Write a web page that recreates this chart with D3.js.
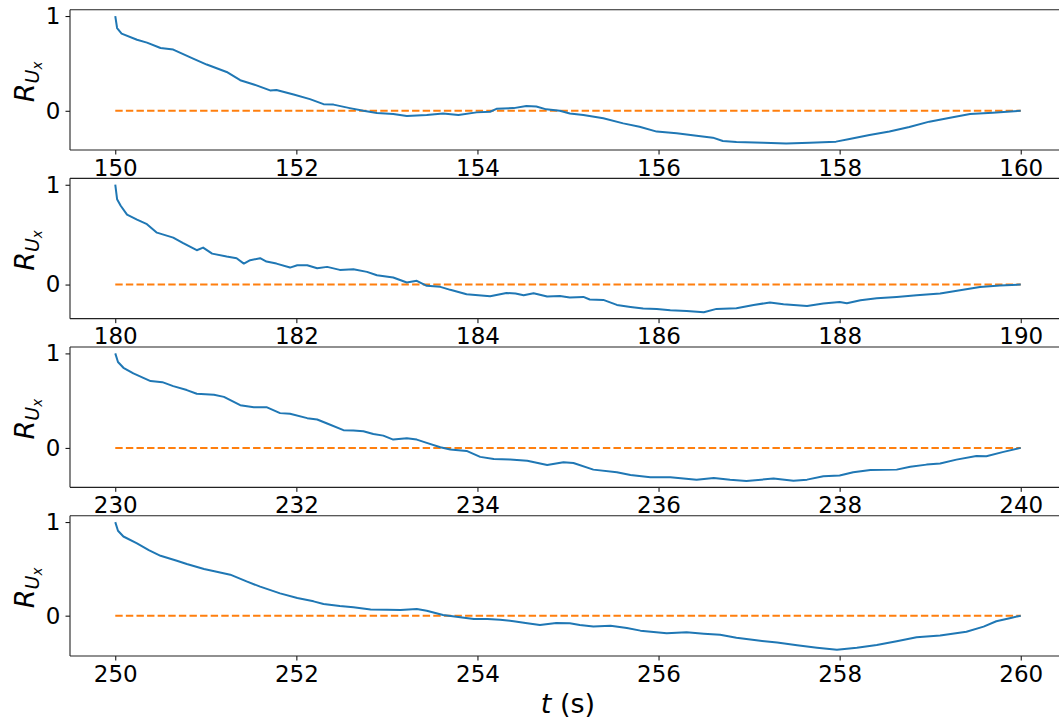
<!DOCTYPE html>
<html>
<head>
<meta charset="utf-8">
<script src="https://cdn.jsdelivr.net/npm/d3@7"></script>
<style>
  html, body { margin: 0; padding: 0; background: #fff; }
  svg { display: block; }
  text { font-family: "DejaVu Sans", sans-serif; fill: #000; }
</style>
</head>
<body>
<svg id="chart" width="1059" height="720"></svg>
<script>
// ---------- data ----------
const startTimes = [150, 180, 230, 250];
const tickOffsets = [0, 2, 4, 6, 8, 10];
const yTickValues = [0, 1];
const yLabel = { main: "R", sub: "U", subsub: "x" };
const xLabel = { italic: "t", rest: " (s)" };

const t1 = [150.00,150.02,150.07,150.24,150.35,150.50,150.64,150.86,151.01,151.23,151.38,151.53,151.71,151.78,151.97,152.15,152.30,152.41,152.59,152.74,152.89,153.07,153.22,153.44,153.62,153.79,153.99,154.14,154.21,154.40,154.54,154.65,154.76,154.91,155.02,155.17,155.39,155.61,155.79,155.98,156.20,156.42,156.60,156.71,156.86,157.16,157.41,157.67,157.96,158.11,158.33,158.55,158.77,158.99,159.22,159.44,159.69,160.00];
const r1 = [1.0,0.874,0.815,0.75,0.72,0.663,0.646,0.55,0.488,0.41,0.323,0.278,0.215,0.22,0.172,0.123,0.07,0.065,0.028,0.0,-0.024,-0.035,-0.056,-0.045,-0.03,-0.045,-0.017,-0.01,0.02,0.028,0.05,0.045,0.015,0.0,-0.028,-0.045,-0.08,-0.133,-0.168,-0.22,-0.238,-0.263,-0.284,-0.319,-0.33,-0.337,-0.347,-0.337,-0.326,-0.298,-0.256,-0.22,-0.172,-0.115,-0.073,-0.035,-0.02,0.0];

const t2 = [180.00,180.02,180.06,180.13,180.24,180.35,180.46,180.64,180.75,180.90,180.97,181.07,181.23,181.34,181.42,181.49,181.60,181.67,181.78,181.93,182.01,182.12,182.23,182.34,182.48,182.63,182.78,182.89,183.07,183.22,183.33,183.44,183.59,183.70,183.88,184.14,184.32,184.42,184.51,184.62,184.77,184.91,185.02,185.17,185.24,185.39,185.54,185.69,185.83,185.98,186.13,186.31,186.50,186.64,186.86,187.05,187.23,187.38,187.64,187.82,188.00,188.08,188.23,188.41,188.63,188.85,189.11,189.33,189.55,189.77,190.00];
const r2 = [1.0,0.855,0.79,0.70,0.65,0.605,0.52,0.47,0.415,0.344,0.37,0.31,0.28,0.264,0.21,0.244,0.264,0.23,0.21,0.17,0.194,0.194,0.163,0.177,0.147,0.153,0.127,0.093,0.07,0.02,0.037,-0.013,-0.023,-0.053,-0.097,-0.117,-0.084,-0.09,-0.107,-0.087,-0.12,-0.114,-0.13,-0.124,-0.15,-0.154,-0.204,-0.224,-0.241,-0.244,-0.258,-0.264,-0.278,-0.244,-0.238,-0.204,-0.18,-0.197,-0.214,-0.19,-0.174,-0.187,-0.157,-0.137,-0.124,-0.107,-0.09,-0.057,-0.024,-0.01,0.0];

const t3 = [230.00,230.03,230.09,230.20,230.31,230.39,230.52,230.64,230.79,230.90,231.09,231.20,231.38,231.53,231.67,231.82,231.93,232.12,232.23,232.34,232.52,232.63,232.74,232.85,232.96,233.07,233.22,233.33,233.44,233.59,233.70,233.88,234.03,234.18,234.36,234.55,234.77,234.95,235.06,235.28,235.54,235.69,235.91,236.13,236.42,236.61,236.79,236.97,237.27,237.49,237.64,237.82,238.00,238.15,238.34,238.63,238.78,238.96,239.11,239.29,239.51,239.62,239.81,240.00];
const r3 = [1.0,0.909,0.848,0.788,0.742,0.707,0.696,0.654,0.612,0.573,0.562,0.54,0.452,0.431,0.431,0.368,0.361,0.315,0.301,0.258,0.188,0.184,0.177,0.148,0.13,0.088,0.103,0.088,0.053,0.007,-0.018,-0.032,-0.095,-0.117,-0.124,-0.135,-0.18,-0.152,-0.16,-0.23,-0.258,-0.286,-0.311,-0.311,-0.336,-0.318,-0.336,-0.35,-0.325,-0.347,-0.336,-0.301,-0.293,-0.258,-0.233,-0.23,-0.2,-0.177,-0.166,-0.124,-0.085,-0.088,-0.042,0.0];

const t4 = [250.00,250.03,250.09,250.24,250.37,250.50,250.68,250.79,250.98,251.12,251.27,251.45,251.60,251.82,252.01,252.19,252.30,252.48,252.63,252.82,253.00,253.15,253.33,253.44,253.62,253.81,253.96,254.11,254.25,254.40,254.55,254.69,254.87,255.02,255.13,255.28,255.47,255.65,255.80,256.09,256.31,256.50,256.68,256.86,257.08,257.31,257.53,257.75,257.97,258.19,258.41,258.63,258.85,259.11,259.40,259.59,259.73,259.89,260.00];
const r4 = [1.0,0.907,0.846,0.772,0.701,0.64,0.587,0.552,0.498,0.47,0.438,0.366,0.31,0.238,0.189,0.153,0.125,0.103,0.089,0.067,0.064,0.06,0.071,0.053,0.007,-0.018,-0.036,-0.036,-0.043,-0.06,-0.082,-0.1,-0.078,-0.082,-0.1,-0.117,-0.107,-0.132,-0.16,-0.189,-0.178,-0.192,-0.203,-0.235,-0.263,-0.288,-0.317,-0.342,-0.363,-0.342,-0.313,-0.274,-0.231,-0.213,-0.171,-0.117,-0.06,-0.025,0.0];

const timeSeries = [t1, t2, t3, t4];
const corrSeries = [r1, r2, r3, r4];

// ---------- layout ----------
const svg = d3.select("#chart");
const left = 70, right = 1066;
const firstTop = 9.7, panelH = 140.3, panelStep = 168.67;
const blue = "#1f77b4", orange = "#ff7f0e";
const tickFont = 23, labelFont = 27;

startTimes.forEach((t0, i) => {
  const top = firstTop + i * panelStep;
  const bottom = top + panelH;
  const ts = timeSeries[i], rs = corrSeries[i];
  const data = ts.map((t, k) => ({ t, r: rs[k] }));

  const x = d3.scaleLinear().domain([t0 - 0.5, t0 + 10.5]).range([left, right]);
  const ext = d3.extent(rs);
  const pad = (ext[1] - ext[0]) * 0.05;
  const y = d3.scaleLinear().domain([ext[0] - pad, ext[1] + pad]).range([bottom, top]);

  const g = svg.append("g");

  // zero reference (dashed)
  g.append("path")
    .datum([t0, t0 + 10])
    .attr("d", d3.line().x(d => x(d)).y(() => y(0)))
    .attr("fill", "none")
    .attr("stroke", orange)
    .attr("stroke-width", 2)
    .attr("stroke-dasharray", "7.4,3.2");

  // correlation curve
  g.append("path")
    .datum(data)
    .attr("d", d3.line().x(d => x(d.t)).y(d => y(d.r)))
    .attr("fill", "none")
    .attr("stroke", blue)
    .attr("stroke-width", 2)
    .attr("stroke-linejoin", "round");

  // x axis
  const xAxis = d3.axisBottom(x)
    .tickValues(tickOffsets.map(o => t0 + o))
    .tickFormat(d3.format("d"))
    .tickSizeOuter(0)
    .tickSize(4.5)
    .tickPadding(5);
  const xg = g.append("g").attr("transform", `translate(0,${bottom})`).call(xAxis);
  xg.select(".domain").remove();
  xg.selectAll(".tick line").attr("stroke", "#000").attr("stroke-width", 1);
  xg.selectAll(".tick text")
    .attr("font-family", "DejaVu Sans")
    .attr("font-size", tickFont)
    .attr("fill", "#000");

  // y axis
  const yAxis = d3.axisLeft(y)
    .tickValues(yTickValues)
    .tickFormat(d3.format("d"))
    .tickSizeOuter(0)
    .tickSize(4.5)
    .tickPadding(5);
  const yg = g.append("g").attr("transform", `translate(${left},0)`).call(yAxis);
  yg.select(".domain").remove();
  yg.selectAll(".tick line").attr("stroke", "#000").attr("stroke-width", 1);
  yg.selectAll(".tick text")
    .attr("font-family", "DejaVu Sans")
    .attr("font-size", tickFont)
    .attr("fill", "#000");

  // spines
  const sp = g.append("g").attr("stroke", "#222").attr("stroke-width", 1.1).attr("fill", "none");
  sp.append("line").attr("x1", left).attr("x2", left).attr("y1", top).attr("y2", bottom);
  sp.append("line").attr("x1", left).attr("x2", right).attr("y1", top).attr("y2", top);
  sp.append("line").attr("x1", left).attr("x2", right).attr("y1", bottom).attr("y2", bottom);
  sp.append("line").attr("x1", right).attr("x2", right).attr("y1", top).attr("y2", bottom);

  // y label R_{U_x}
  const yl = g.append("text")
    .attr("transform", `translate(33.5,${(top + bottom) / 2 + 2}) rotate(-90)`)
    .attr("text-anchor", "middle")
    .attr("font-family", "DejaVu Sans")
    .attr("font-style", "italic")
    .attr("font-size", labelFont);
  yl.append("tspan").text(yLabel.main);
  yl.append("tspan").attr("font-size", 19).attr("dy", 5.5).text(yLabel.sub);
  yl.append("tspan").attr("font-size", 13.5).attr("dy", 2.5).text(yLabel.subsub);
});

// x label
const xl = svg.append("text")
  .attr("x", (left + right) / 2)
  .attr("y", 713)
  .attr("text-anchor", "middle")
  .attr("font-family", "DejaVu Sans")
  .attr("font-size", labelFont);
xl.append("tspan").attr("font-style", "italic").text(xLabel.italic);
xl.append("tspan").text(xLabel.rest);
</script>
</body>
</html>
